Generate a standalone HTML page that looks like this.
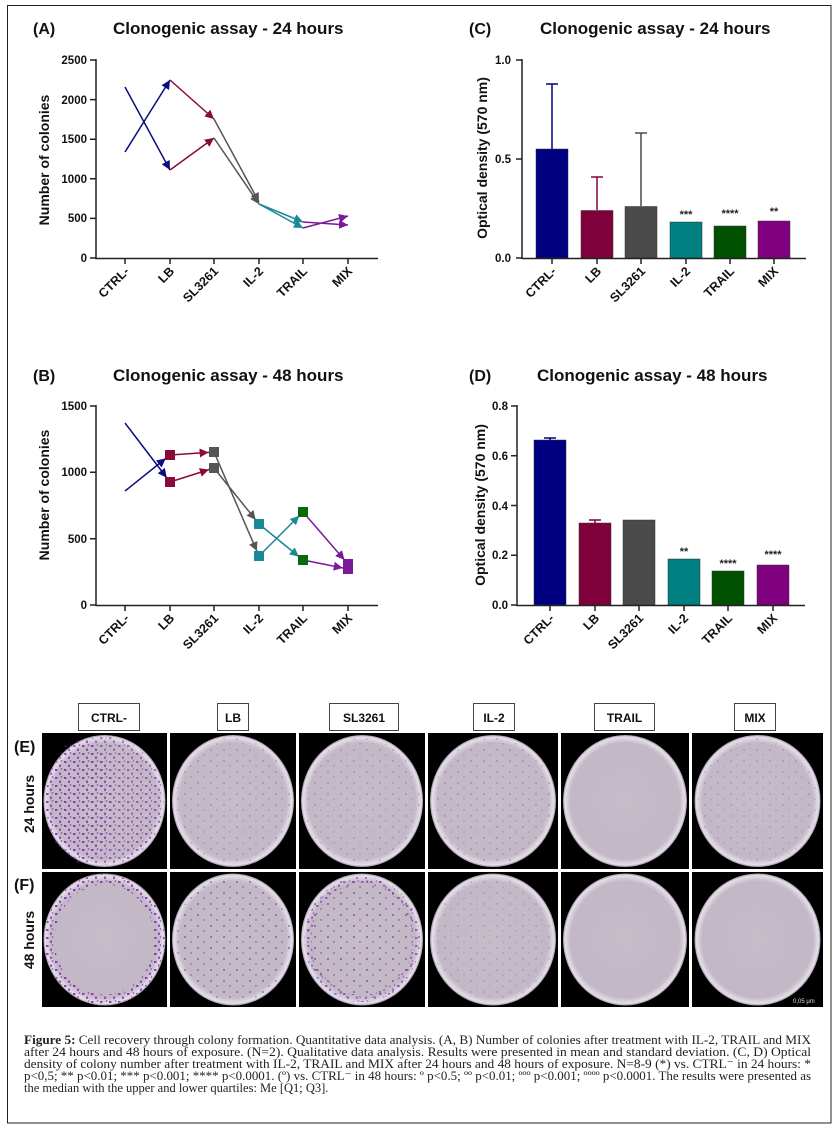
<!DOCTYPE html>
<html><head><meta charset="utf-8"><style>
html,body{margin:0;padding:0;background:#fff}
svg{display:block}
text{font-family:"Liberation Sans",sans-serif}
.t{font-weight:bold;font-size:17px;fill:#111}
.pl{font-weight:bold;font-size:16px;fill:#111}
.tk{font-weight:bold;font-size:11.5px;fill:#111}
.cat{font-weight:bold;font-size:12.5px;fill:#111}
.yl{font-weight:bold;font-size:14px;fill:#111}
.st{font-size:11px;fill:#222;font-weight:bold}
text.cap{font-family:"Liberation Serif",serif;font-size:12.5px;fill:#222}
.hd{font-weight:bold;font-size:12px;fill:#111}
</style></head><body>
<svg width="839" height="1131" viewBox="0 0 839 1131" xmlns="http://www.w3.org/2000/svg">
<defs>
<marker id="mb" viewBox="0 0 10 10" refX="10" refY="5" markerWidth="9" markerHeight="9" markerUnits="userSpaceOnUse" orient="auto"><path d="M0,0L10,5L0,10z" fill="#0b0b80"/></marker>
<marker id="mm" viewBox="0 0 10 10" refX="10" refY="5" markerWidth="9" markerHeight="9" markerUnits="userSpaceOnUse" orient="auto"><path d="M0,0L10,5L0,10z" fill="#8b0a3e"/></marker>
<marker id="mg" viewBox="0 0 10 10" refX="10" refY="5" markerWidth="9" markerHeight="9" markerUnits="userSpaceOnUse" orient="auto"><path d="M0,0L10,5L0,10z" fill="#555"/></marker>
<marker id="mt" viewBox="0 0 10 10" refX="10" refY="5" markerWidth="9" markerHeight="9" markerUnits="userSpaceOnUse" orient="auto"><path d="M0,0L10,5L0,10z" fill="#1a8a96"/></marker>
<marker id="mp" viewBox="0 0 10 10" refX="10" refY="5" markerWidth="9" markerHeight="9" markerUnits="userSpaceOnUse" orient="auto"><path d="M0,0L10,5L0,10z" fill="#7a1a9a"/></marker>
<marker id="mb2" viewBox="0 0 10 10" refX="16" refY="5" markerWidth="9" markerHeight="9" markerUnits="userSpaceOnUse" orient="auto"><path d="M0,0L10,5L0,10z" fill="#0b0b80"/></marker>
<marker id="mm2" viewBox="0 0 10 10" refX="16" refY="5" markerWidth="9" markerHeight="9" markerUnits="userSpaceOnUse" orient="auto"><path d="M0,0L10,5L0,10z" fill="#8b0a3e"/></marker>
<marker id="mg2" viewBox="0 0 10 10" refX="16" refY="5" markerWidth="9" markerHeight="9" markerUnits="userSpaceOnUse" orient="auto"><path d="M0,0L10,5L0,10z" fill="#555"/></marker>
<marker id="mt2" viewBox="0 0 10 10" refX="16" refY="5" markerWidth="9" markerHeight="9" markerUnits="userSpaceOnUse" orient="auto"><path d="M0,0L10,5L0,10z" fill="#1a8a96"/></marker>
<marker id="mp2" viewBox="0 0 10 10" refX="16" refY="5" markerWidth="9" markerHeight="9" markerUnits="userSpaceOnUse" orient="auto"><path d="M0,0L10,5L0,10z" fill="#7a1a9a"/></marker>
<pattern id="sp" width="13" height="11" patternUnits="userSpaceOnUse"><circle cx="3" cy="2" r="0.9" fill="#6a2c8a"/><circle cx="9" cy="7" r="0.7" fill="#6a2c8a"/></pattern>
<pattern id="dn" width="9" height="8" patternUnits="userSpaceOnUse"><rect x="1" y="1" width="2.5" height="2" fill="#7a1fb0"/><rect x="5" y="4.5" width="2" height="2.5" fill="#8a2fc0"/><circle cx="7.5" cy="1" r="0.8" fill="#7a1fb0"/></pattern>
<radialGradient id="pg" cx="50%" cy="50%" r="50%"><stop offset="0%" stop-color="#c6bcc8"/><stop offset="88%" stop-color="#c3b8c6"/><stop offset="97%" stop-color="#e6e0ea"/><stop offset="100%" stop-color="#9a90a0"/></radialGradient>
</defs>
<rect x="7.5" y="5.5" width="823.5" height="1117.5" fill="none" stroke="#222" stroke-width="1"/>

<!-- Panel A -->
<text x="33" y="34" class="pl">(A)</text>
<text x="113" y="34" class="t">Clonogenic assay - 24 hours</text>
<g stroke="#222" stroke-width="1.5" fill="none">
<path d="M96,59V258.5H378"/>
<path d="M90,60H96M90,99.6H96M90,139.2H96M90,178.8H96M90,218.4H96M90,258H96"/>
<path d="M125,258V264M170,258V264M214,258V264M259,258V264M303,258V264M348,258V264"/>
</g>
<g class="tk" text-anchor="end"><text x="87" y="64">2500</text><text x="87" y="104">2000</text><text x="87" y="143">1500</text><text x="87" y="183">1000</text><text x="87" y="222">500</text><text x="87" y="262">0</text></g>
<text class="yl" text-anchor="middle" transform="translate(49,160) rotate(-90)">Number of colonies</text>
<g class="cat" text-anchor="end">
<text transform="translate(130,272) rotate(-45)">CTRL-</text><text transform="translate(175,272) rotate(-45)">LB</text><text transform="translate(219,272) rotate(-45)">SL3261</text><text transform="translate(264,272) rotate(-45)">IL-2</text><text transform="translate(308,272) rotate(-45)">TRAIL</text><text transform="translate(353,272) rotate(-45)">MIX</text>
</g>
<g fill="none" stroke-width="1.5">
<path d="M125,87L170,170" stroke="#0b0b80" marker-end="url(#mb)"/>
<path d="M125,152L170,80" stroke="#0b0b80" marker-end="url(#mb)"/>
<path d="M170,170L214,138" stroke="#8b0a3e" marker-end="url(#mm)"/>
<path d="M170,80L214,119" stroke="#8b0a3e" marker-end="url(#mm)"/>
<path d="M214,138L259,204" stroke="#555" marker-end="url(#mg)"/>
<path d="M214,119L259,202" stroke="#555" marker-end="url(#mg)"/>
<path d="M259,204L303,228" stroke="#1a8a96" marker-end="url(#mt)"/>
<path d="M259,204L303,222" stroke="#1a8a96" marker-end="url(#mt)"/>
<path d="M303,228L348,216" stroke="#7a1a9a" marker-end="url(#mp)"/>
<path d="M303,222L348,225" stroke="#7a1a9a" marker-end="url(#mp)"/>
</g>

<!-- Panel B -->
<text x="33" y="381" class="pl">(B)</text>
<text x="113" y="381" class="t">Clonogenic assay - 48 hours</text>
<g stroke="#222" stroke-width="1.5" fill="none">
<path d="M96,405V605.5H378"/>
<path d="M90,406H96M90,472.3H96M90,538.7H96M90,605H96"/>
<path d="M125,605V611M170,605V611M214,605V611M259,605V611M303,605V611M348,605V611"/>
</g>
<g class="tk" text-anchor="end"><text x="87" y="410">1500</text><text x="87" y="476">1000</text><text x="87" y="543">500</text><text x="87" y="609">0</text></g>
<text class="yl" text-anchor="middle" transform="translate(49,495) rotate(-90)">Number of colonies</text>
<g class="cat" text-anchor="end">
<text transform="translate(130,619) rotate(-45)">CTRL-</text><text transform="translate(175,619) rotate(-45)">LB</text><text transform="translate(219,619) rotate(-45)">SL3261</text><text transform="translate(264,619) rotate(-45)">IL-2</text><text transform="translate(308,619) rotate(-45)">TRAIL</text><text transform="translate(353,619) rotate(-45)">MIX</text>
</g>
<g fill="none" stroke-width="1.5">
<path d="M125,423L170,482" stroke="#0b0b80" marker-end="url(#mb2)"/>
<path d="M125,491L170,455" stroke="#0b0b80" marker-end="url(#mb2)"/>
<path d="M170,482L214,468" stroke="#8b0a3e" marker-end="url(#mm2)"/>
<path d="M170,455L214,452" stroke="#8b0a3e" marker-end="url(#mm2)"/>
<path d="M214,468L259,524" stroke="#555" marker-end="url(#mg2)"/>
<path d="M214,452L259,556" stroke="#555" marker-end="url(#mg2)"/>
<path d="M259,524L303,560" stroke="#1a8a96" marker-end="url(#mt2)"/>
<path d="M259,556L303,512" stroke="#1a8a96" marker-end="url(#mt2)"/>
<path d="M303,512L348,564" stroke="#7a1a9a" marker-end="url(#mp2)"/>
<path d="M303,560L348,569" stroke="#7a1a9a" marker-end="url(#mp2)"/>
</g>
<g>
<rect x="165" y="477" width="10" height="10" fill="#8b0a3e"/><rect x="165" y="450" width="10" height="10" fill="#8b0a3e"/>
<rect x="209" y="463" width="10" height="10" fill="#555"/><rect x="209" y="447" width="10" height="10" fill="#555"/>
<rect x="254" y="519" width="10" height="10" fill="#1a8a96"/><rect x="254" y="551" width="10" height="10" fill="#1a8a96"/>
<rect x="298" y="507" width="10" height="10" fill="#0a6a0a"/><rect x="298" y="555" width="10" height="10" fill="#0a6a0a"/>
<rect x="343" y="559" width="10" height="10" fill="#7a1a9a"/><rect x="343" y="564" width="10" height="10" fill="#7a1a9a"/>
</g>

<!-- Panel C -->
<text x="469" y="34" class="pl">(C)</text>
<text x="540" y="34" class="t">Clonogenic assay - 24 hours</text>
<g>
<rect x="536" y="149" width="32" height="109" fill="#000080" stroke="#333" stroke-width="0.5"/>
<rect x="581" y="210.5" width="32" height="47.5" fill="#80003c" stroke="#333" stroke-width="0.5"/>
<rect x="625" y="206.5" width="32" height="51.5" fill="#4a4a4a" stroke="#333" stroke-width="0.5"/>
<rect x="670" y="222" width="32" height="36" fill="#008080" stroke="#333" stroke-width="0.5"/>
<rect x="714" y="226" width="32" height="32" fill="#005000" stroke="#333" stroke-width="0.5"/>
<rect x="758" y="221" width="32" height="37" fill="#800080" stroke="#333" stroke-width="0.5"/>
</g>
<g fill="none" stroke-width="1.5">
<path d="M552,149V84M546,84H558" stroke="#000080"/>
<path d="M597,210V177M591,177H603" stroke="#80003c"/>
<path d="M641,206V133M635,133H647" stroke="#4a4a4a"/>
</g>
<g class="st" text-anchor="middle"><text x="686" y="218">***</text><text x="730" y="217">****</text><text x="774" y="215">**</text></g>
<g stroke="#222" stroke-width="1.5" fill="none">
<path d="M522,59V258.5H806"/>
<path d="M516,60H522M516,159H522M516,258H522"/>
<path d="M552,258V264M597,258V264M641,258V264M686,258V264M730,258V264M774,258V264"/>
</g>
<g class="tk" text-anchor="end"><text x="511" y="64">1.0</text><text x="511" y="163">0.5</text><text x="511" y="262">0.0</text></g>
<text class="yl" text-anchor="middle" transform="translate(487,158) rotate(-90)">Optical density (570 nm)</text>
<g class="cat" text-anchor="end">
<text transform="translate(557,272) rotate(-45)">CTRL-</text><text transform="translate(602,272) rotate(-45)">LB</text><text transform="translate(646,272) rotate(-45)">SL3261</text><text transform="translate(691,272) rotate(-45)">IL-2</text><text transform="translate(735,272) rotate(-45)">TRAIL</text><text transform="translate(779,272) rotate(-45)">MIX</text>
</g>

<!-- Panel D -->
<text x="469" y="381" class="pl">(D)</text>
<text x="537" y="381" class="t">Clonogenic assay - 48 hours</text>
<g>
<rect x="534" y="440" width="32" height="165" fill="#000080" stroke="#333" stroke-width="0.5"/>
<rect x="579" y="523" width="32" height="82" fill="#80003c" stroke="#333" stroke-width="0.5"/>
<rect x="623" y="520" width="32" height="85" fill="#4a4a4a" stroke="#333" stroke-width="0.5"/>
<rect x="668" y="559" width="32" height="46" fill="#008080" stroke="#333" stroke-width="0.5"/>
<rect x="712" y="571" width="32" height="34" fill="#005000" stroke="#333" stroke-width="0.5"/>
<rect x="757" y="565" width="32" height="40" fill="#800080" stroke="#333" stroke-width="0.5"/>
</g>
<g fill="none" stroke-width="1.5">
<path d="M550,440V438M544,438H556" stroke="#000080"/>
<path d="M595,523V520M589,520H601" stroke="#80003c"/>
</g>
<g class="st" text-anchor="middle"><text x="684" y="555">**</text><text x="728" y="567">****</text><text x="773" y="558">****</text></g>
<g stroke="#222" stroke-width="1.5" fill="none">
<path d="M517,405V605.5H805"/>
<path d="M511,406H517M511,455.7H517M511,505.5H517M511,555.2H517M511,605H517"/>
<path d="M550,605V611M595,605V611M639,605V611M684,605V611M728,605V611M773,605V611"/>
</g>
<g class="tk" text-anchor="end"><text x="508" y="410">0.8</text><text x="508" y="460">0.6</text><text x="508" y="510">0.4</text><text x="508" y="559">0.2</text><text x="508" y="609">0.0</text></g>
<text class="yl" text-anchor="middle" transform="translate(485,505) rotate(-90)">Optical density (570 nm)</text>
<g class="cat" text-anchor="end">
<text transform="translate(555,619) rotate(-45)">CTRL-</text><text transform="translate(600,619) rotate(-45)">LB</text><text transform="translate(644,619) rotate(-45)">SL3261</text><text transform="translate(689,619) rotate(-45)">IL-2</text><text transform="translate(733,619) rotate(-45)">TRAIL</text><text transform="translate(778,619) rotate(-45)">MIX</text>
</g>

<!-- Photo headers -->
<g fill="#fff" stroke="#444" stroke-width="1">
<rect x="78.5" y="703.5" width="61" height="27"/><rect x="217.5" y="703.5" width="31" height="27"/><rect x="329.5" y="703.5" width="69" height="27"/><rect x="473.5" y="703.5" width="41" height="27"/><rect x="594.5" y="703.5" width="60" height="27"/><rect x="734.5" y="703.5" width="41" height="27"/>
</g>
<g class="hd" text-anchor="middle"><text x="109" y="722">CTRL-</text><text x="233" y="722">LB</text><text x="364" y="722">SL3261</text><text x="494" y="722">IL-2</text><text x="624.5" y="722">TRAIL</text><text x="755" y="722">MIX</text></g>
<text x="14" y="752" class="pl">(E)</text>
<text x="14" y="890" class="pl">(F)</text>
<text class="yl" text-anchor="middle" transform="translate(34,804) rotate(-90)">24 hours</text>
<text class="yl" text-anchor="middle" transform="translate(34,940) rotate(-90)">48 hours</text>

<!-- plates row E -->
<g>
<rect x="42" y="733" width="125" height="136" fill="#000"/><ellipse cx="104.5" cy="801" rx="61" ry="66" fill="url(#pg)"/><ellipse cx="104.5" cy="801" rx="59" ry="64" fill="url(#dn)" opacity="0.6"/><ellipse cx="80" cy="801" rx="34" ry="62" fill="url(#dn)" opacity="0.5"/>
<rect x="170" y="733" width="126" height="136" fill="#000"/><ellipse cx="233" cy="801" rx="61" ry="66" fill="url(#pg)"/><ellipse cx="233" cy="801" rx="58" ry="63" fill="url(#sp)" opacity="0.4"/>
<rect x="299" y="733" width="126" height="136" fill="#000"/><ellipse cx="362" cy="801" rx="61" ry="66" fill="url(#pg)"/><ellipse cx="362" cy="801" rx="58" ry="63" fill="url(#sp)" opacity="0.35"/>
<rect x="428" y="733" width="130" height="136" fill="#000"/><ellipse cx="493" cy="801" rx="63" ry="66" fill="url(#pg)"/><ellipse cx="493" cy="801" rx="60" ry="63" fill="url(#sp)" opacity="0.4"/>
<rect x="561" y="733" width="128" height="136" fill="#000"/><ellipse cx="625" cy="801" rx="62" ry="66" fill="url(#pg)"/>
<rect x="692" y="733" width="131" height="136" fill="#000"/><ellipse cx="757.5" cy="801" rx="63" ry="66" fill="url(#pg)"/><ellipse cx="757.5" cy="801" rx="60" ry="63" fill="url(#sp)" opacity="0.3"/>
</g>
<!-- plates row F -->
<g>
<rect x="42" y="872" width="125" height="135" fill="#000"/><ellipse cx="104.5" cy="939.5" rx="61" ry="66" fill="url(#pg)"/><ellipse cx="104.5" cy="939.5" rx="55" ry="60" fill="none" stroke="url(#dn)" stroke-width="10" opacity="0.8"/>
<rect x="170" y="872" width="126" height="135" fill="#000"/><ellipse cx="233" cy="939.5" rx="61" ry="66" fill="url(#pg)"/><ellipse cx="233" cy="939.5" rx="58" ry="63" fill="url(#sp)" opacity="0.8"/>
<rect x="299" y="872" width="126" height="135" fill="#000"/><ellipse cx="362" cy="939.5" rx="61" ry="66" fill="url(#pg)"/><ellipse cx="362" cy="939.5" rx="58" ry="63" fill="url(#sp)" opacity="0.9"/><ellipse cx="362" cy="939.5" rx="54" ry="59" fill="none" stroke="url(#dn)" stroke-width="7" opacity="0.6"/>
<rect x="428" y="872" width="130" height="135" fill="#000"/><ellipse cx="493" cy="939.5" rx="63" ry="66" fill="url(#pg)"/><ellipse cx="493" cy="939.5" rx="60" ry="63" fill="url(#sp)" opacity="0.3"/>
<rect x="561" y="872" width="128" height="135" fill="#000"/><ellipse cx="625" cy="939.5" rx="62" ry="66" fill="url(#pg)"/>
<rect x="692" y="872" width="131" height="135" fill="#000"/><ellipse cx="757.5" cy="939.5" rx="63" ry="66" fill="url(#pg)"/>
<text x="793" y="1003" fill="#ddd" font-size="6">0,05 µm</text>
</g>

<!-- Caption -->
<g>
<text class="cap" x="24" y="1044" textLength="787" lengthAdjust="spacingAndGlyphs"><tspan font-weight="bold">Figure 5:</tspan> Cell recovery through colony formation. Quantitative data analysis. (A, B) Number of colonies after treatment with IL-2, TRAIL and MIX</text>
<text class="cap" x="24" y="1056" textLength="787" lengthAdjust="spacingAndGlyphs">after 24 hours and 48 hours of exposure. (N=2). Qualitative data analysis. Results were presented in mean and standard deviation.   (C, D) Optical</text>
<text class="cap" x="24" y="1068" textLength="787" lengthAdjust="spacingAndGlyphs">density of colony number after treatment with IL-2, TRAIL and MIX after 24 hours and 48 hours of exposure. N=8-9 (*) vs. CTRL⁻ in 24 hours: *</text>
<text class="cap" x="24" y="1080" textLength="787" lengthAdjust="spacingAndGlyphs">p&lt;0,5; ** p&lt;0.01; *** p&lt;0.001; **** p&lt;0.0001. (º) vs. CTRL⁻ in 48 hours: º p&lt;0.5; ºº p&lt;0.01; ººº p&lt;0.001; ºººº p&lt;0.0001. The results were presented as</text>
<text class="cap" x="24" y="1092">the median with the upper and lower quartiles: Me [Q1; Q3].</text>
</g>
</svg>
</body></html>
